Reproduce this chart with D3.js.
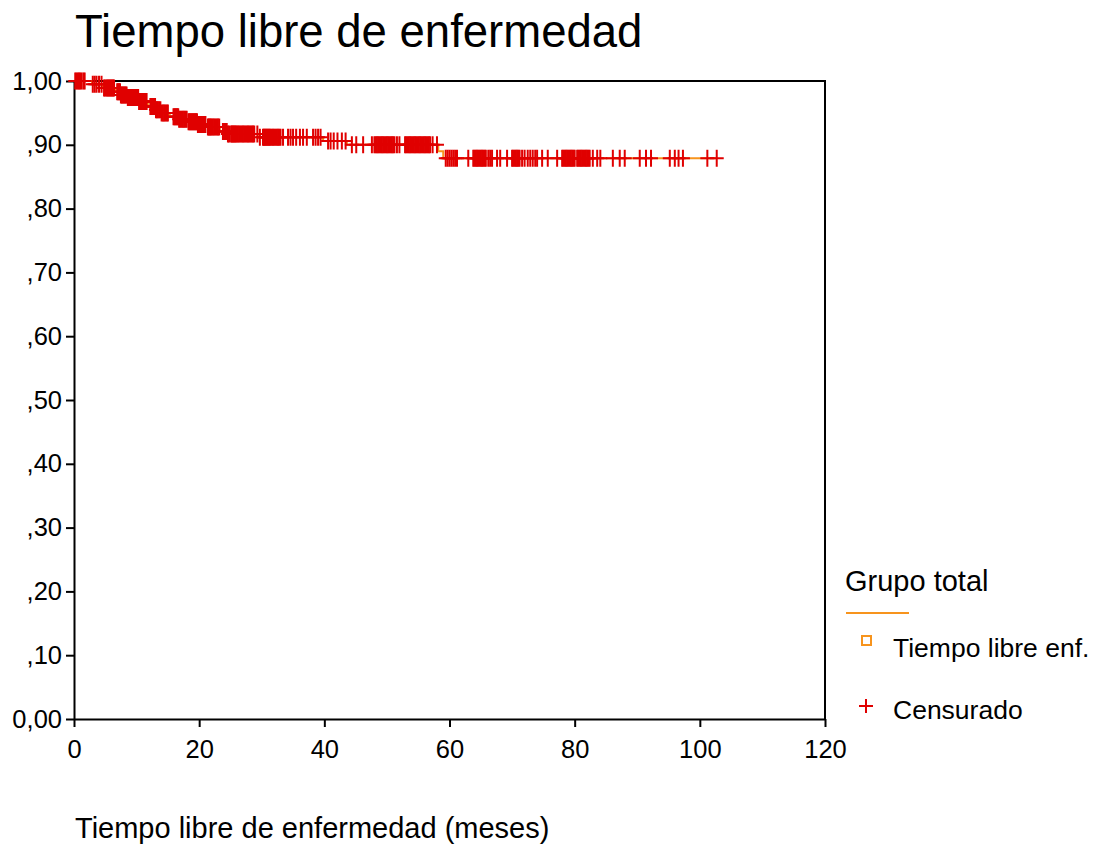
<!DOCTYPE html>
<html>
<head>
<meta charset="utf-8">
<script src="https://cdn.jsdelivr.net/npm/d3@7"></script>
<style>
  html, body { margin: 0; padding: 0; background: #fff; }
  svg { display: block; font-family: "Liberation Sans", Arial, sans-serif; }
</style>
</head>
<body>
<svg id="chart" width="1096" height="846"></svg>
<script>
// Kaplan–Meier estimate: event times (months) and survival after each event
const eventTimes    = [2.9, 4.6, 6.6, 7.4, 8.5, 10.4, 11.8, 13.0, 13.9, 15.3, 16.8, 18.1, 19.8, 21.3, 23.3, 24.6, 29.6, 39.8, 43.6, 58.2, 59.0];
const survivalAfter = [0.995, 0.989, 0.983, 0.978, 0.974, 0.968, 0.960, 0.955, 0.950, 0.944, 0.940, 0.936, 0.932, 0.928, 0.921, 0.917, 0.912, 0.906, 0.900, 0.890, 0.879];

// Censored observations (months)
const censorTimes = [
  0.2, 0.4, 0.6, 0.8, 1.0, 1.2, 1.5, 1.7,
  3.0, 3.3, 3.6, 4.0, 4.4, 4.8,
  5.0, 5.2, 5.35, 5.5, 5.65, 5.8, 5.95, 6.1, 6.25, 6.4,
  6.9, 7.05, 7.2, 7.35, 7.5, 7.65, 7.8, 7.95, 8.1, 8.25, 8.4,
  8.6, 8.75, 8.9, 9.05, 9.2, 9.35, 9.5, 9.65, 9.8, 9.95, 10.1, 10.25, 10.4,
  10.6, 10.75, 10.9, 11.05, 11.2, 11.4, 11.6,
  12.2, 12.35, 12.5, 12.65, 12.8, 12.95, 13.1, 13.25, 13.4, 13.6, 13.8, 14.0, 14.2, 14.4, 14.6, 14.8, 15.0,
  15.9, 16.05, 16.2, 16.35, 16.5, 16.65, 16.8, 17.0, 17.2, 17.4, 17.6, 17.8, 18.0,
  18.3, 18.45, 18.6, 18.75, 18.9, 19.05, 19.2, 19.35, 19.5, 19.65, 19.8, 19.95, 20.1, 20.25, 20.4, 20.55, 20.7, 20.85, 21.0,
  21.4, 21.55, 21.7, 21.85, 22.0, 22.2, 22.4, 22.6, 22.8, 23.0, 23.2,
  23.8, 24.0, 24.2, 24.4, 24.6,
  24.8, 25.1, 25.25, 25.4, 25.55, 25.7, 25.85, 26.0, 26.2, 26.4, 26.6, 26.8, 27.0, 27.2, 27.4, 27.6, 27.8, 28.0, 28.2, 28.4, 28.6, 28.8, 29.3, 29.7,
  30.2, 30.35, 30.5, 30.65, 30.8, 30.95, 31.1, 31.25, 31.4, 31.6, 31.8, 32.0, 32.2, 32.4, 32.6, 32.8, 33.0, 33.4,
  34.2, 34.6, 35.0, 35.5,
  36.1, 36.6, 37.2,
  38.2, 38.6, 39.0, 39.4,
  40.6, 41.0, 41.5, 42.1,
  42.8, 43.4,
  44.4, 45.1,
  46.2,
  47.6, 48.0, 48.2, 48.4, 48.6, 48.8, 49.0, 49.2, 49.4, 49.6, 49.8, 50.0, 50.2, 50.4, 50.6, 50.8, 51.0, 51.2, 51.6, 52.0,
  52.9, 53.1, 53.3, 53.5, 53.7, 53.9, 54.1, 54.3, 54.5, 54.7, 54.9, 55.1, 55.3, 55.5, 55.7, 55.9, 56.1, 56.3, 56.5, 56.7, 56.9, 57.3,
  58.0,
  59.4, 59.7, 60.0, 60.3, 60.6, 60.9, 61.2,
  63.0,
  63.8, 64.0, 64.2, 64.4, 64.6, 64.8, 65.0, 65.2, 65.4, 65.6, 65.8, 66.2, 66.5, 66.8,
  67.6, 68.1,
  69.2,
  70.0, 70.2, 70.4, 70.6, 70.8, 71.0, 71.2, 71.6, 72.0,
  72.5, 72.9, 73.3, 73.7, 74.0,
  74.8, 75.7, 77.2,
  78.0, 78.2, 78.4, 78.6, 78.8, 79.0, 79.2, 79.4, 79.6, 79.8, 80.0, 80.4,
  80.6, 80.8, 81.0, 81.2, 81.4, 81.6, 81.8, 82.0, 82.2, 82.4, 82.9,
  83.6, 84.1,
  86.1, 87.2, 88.0,
  90.4, 91.4, 92.2,
  95.2, 96.0, 96.6, 97.3,
  101.2, 102.7
];

const xTicks = [0, 20, 40, 60, 80, 100, 120];
const yTicks = [0, 0.1, 0.2, 0.3, 0.4, 0.5, 0.6, 0.7, 0.8, 0.9, 1.0];
const yTickLabels = ["0,00", ",10", ",20", ",30", ",40", ",50", ",60", ",70", ",80", ",90", "1,00"];

const titleText = "Tiempo libre de enfermedad";
const xTitleText = "Tiempo libre de enfermedad (meses)";
const legendTitle = "Grupo total";
const legendItems = ["Tiempo libre enf.", "Censurado"];

const lineColor = "#f7941d";
const censorColor = "#e00000";

const svg = d3.select("#chart");
const x = d3.scaleLinear().domain([0, 120]).range([74, 825]);
const y = d3.scaleLinear().domain([0, 1]).range([719, 81]);

// Survival value of the step function at time t
function survivalAt(t) {
  let s = 1;
  for (let i = 0; i < eventTimes.length; i++) {
    if (eventTimes[i] <= t) s = survivalAfter[i];
  }
  return s;
}

// Title
svg.append("text")
  .attr("x", 75).attr("y", 47)
  .attr("font-size", 45.5)
  .attr("fill", "#000")
  .text(titleText);

// Plot frame (top and right edges)
svg.append("path")
  .attr("d", `M${x(0)},${y(1)}H${x(120)}V${y(0)}`)
  .attr("fill", "none")
  .attr("stroke", "#000")
  .attr("stroke-width", 2);

// Y axis
const yAxis = svg.append("g")
  .attr("transform", `translate(${x(0)},0)`)
  .call(d3.axisLeft(y).tickValues(yTicks).tickSize(8).tickSizeOuter(0)
    .tickFormat((d, i) => yTickLabels[i]).tickPadding(4));
yAxis.select(".domain").attr("stroke-width", 2).attr("stroke", "#000");
yAxis.selectAll(".tick line").attr("stroke-width", 2).attr("stroke", "#000");
yAxis.selectAll(".tick text")
  .attr("font-size", 25.5)
  .attr("font-family", "Liberation Sans, Arial, sans-serif")
  .attr("fill", "#000");

// X axis
const xAxis = svg.append("g")
  .attr("transform", `translate(0,${y(0)})`)
  .call(d3.axisBottom(x).tickValues(xTicks).tickSize(8).tickSizeOuter(0).tickPadding(13));
xAxis.select(".domain").attr("stroke-width", 2).attr("stroke", "#000");
xAxis.selectAll(".tick line").attr("stroke-width", 2).attr("stroke", "#000");
xAxis.selectAll(".tick text")
  .attr("font-size", 25.5)
  .attr("font-family", "Liberation Sans, Arial, sans-serif")
  .attr("fill", "#000");

// X axis title
svg.append("text")
  .attr("x", 75).attr("y", 838)
  .attr("font-size", 29)
  .attr("fill", "#000")
  .text(xTitleText);

// Survival step curve
const lastTime = d3.max(censorTimes);
const curvePoints = [[0, 1]]
  .concat(eventTimes.map((t, i) => [t, survivalAfter[i]]))
  .concat([[lastTime, survivalAfter[survivalAfter.length - 1]]]);

svg.append("path")
  .datum(curvePoints)
  .attr("fill", "none")
  .attr("stroke", lineColor)
  .attr("stroke-width", 2)
  .attr("d", d3.line().x(d => x(d[0])).y(d => y(d[1])).curve(d3.curveStepAfter));

// Censor marks
const plusPath = (cx, cy, hw, hh) => `M${cx - hw},${cy}H${cx + hw}M${cx},${cy - hh}V${cy + hh}`;
svg.append("g")
  .selectAll("path")
  .data(censorTimes)
  .join("path")
  .attr("d", t => plusPath(x(t), y(survivalAt(t)), 7, 8.5))
  .attr("stroke", censorColor)
  .attr("stroke-width", 2)
  .attr("fill", "none");

// Legend
const legend = svg.append("g");
legend.append("text")
  .attr("x", 845).attr("y", 591)
  .attr("font-size", 29)
  .attr("fill", "#000")
  .text(legendTitle);
legend.append("line")
  .attr("x1", 846).attr("x2", 909)
  .attr("y1", 613).attr("y2", 613)
  .attr("stroke", lineColor)
  .attr("stroke-width", 2);
legend.append("rect")
  .attr("x", 862).attr("y", 636)
  .attr("width", 9).attr("height", 9)
  .attr("fill", "none")
  .attr("stroke", lineColor)
  .attr("stroke-width", 2);
legend.append("text")
  .attr("x", 893).attr("y", 657)
  .attr("font-size", 26.5)
  .attr("fill", "#000")
  .text(legendItems[0]);
legend.append("path")
  .attr("d", plusPath(866, 706, 7, 7))
  .attr("stroke", censorColor)
  .attr("stroke-width", 2)
  .attr("fill", "none");
legend.append("text")
  .attr("x", 893).attr("y", 719)
  .attr("font-size", 26.5)
  .attr("fill", "#000")
  .text(legendItems[1]);
</script>
</body>
</html>
